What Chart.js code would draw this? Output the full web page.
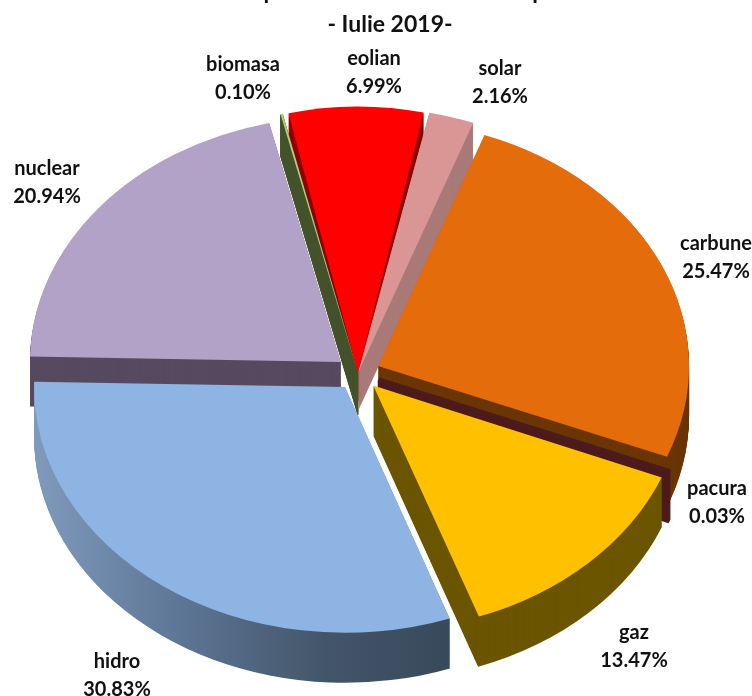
<!DOCTYPE html>
<html>
<head>
<meta charset="utf-8">
<title>Productie energie - Iulie 2019</title>
<script src="https://cdn.jsdelivr.net/npm/chart.js@4/dist/chart.umd.min.js"></script>
<style>
    html, body { margin: 0; padding: 0; background: #fff; overflow: hidden; }
    canvas { display: block; }
</style>
</head>
<body>
<canvas id="pieChart" width="752" height="696"></canvas>
<script>
// --- Donnees ---
const categories = ['carbune', 'pacura', 'gaz', 'hidro', 'nuclear', 'biomasa', 'eolian', 'solar'];
const shares = [25.47, 0.03, 13.47, 30.83, 20.94, 0.10, 6.99, 2.16];
// la 1re ligne du titre est coupee sur l'image, seuls les jambages des "p" se voient : texte suppose
const titleLines = ['Structura productiei de electricitate pe surse', '- Iulie 2019-'];

// --- Couleurs ---
const faceColors = ['#E46C0A', '#632523', '#FFC000', '#8DB4E2', '#B3A2C7', '#B5CC7A', '#FF0000', '#D99694'];
const sideColors = ['#6B3606', '#4D1B1B', '#6B5500', null, '#564A60', '#44532B', '#8F0000', '#A97A78'];

// --- Mise en page : la perspective agrandit les tranches du fond ---
const CENTER_Y = 373;
const sliceOffsets = [88, 88, 88, 88, 88, 0, 0, 0]; // Chart.js n'applique que offset/4
const sliceRadii = [311, 311, 311, 311, 311, 337, 310, 337];
const sliceSquash = [0.79, 0.79, 0.79, 0.79, 0.79, 0.79, 0.86, 0.79];
const sideDepths = [50, 50, 50, 50, 50, 42, 30, 38];
const sideStarts = [1, 0, 1, 1, 1, 1, 1, 1];
const sideStrokes = [0, 5, 0, 0, 0, 1, 0, 0];
const labelAnchors = [[716, 243], [717, 488], [634, 632], [117, 661], [47, 168], [243, 64], [374, 58], [500, 68]];

function slicePath(ctx, arc, i) {
    const off = arc.options.offset / 4;
    const mid = (arc.startAngle + arc.endAngle) / 2;
    const x = arc.x + Math.cos(mid) * off;
    const y = arc.y + Math.sin(mid) * off;
    ctx.beginPath();
    ctx.moveTo(x, y);
    ctx.arc(x, y, sliceRadii[i], arc.startAngle, arc.endAngle);
    ctx.closePath();
}

const pie3d = {
    id: 'pie3d',
    beforeDatasetsDraw(chart) {
        const ctx = chart.ctx;
        const arcs = chart.getDatasetMeta(0).data;

        const hidroSide = ctx.createLinearGradient(35, 0, 450, 0);
        hidroSide.addColorStop(0, '#809ABD');
        hidroSide.addColorStop(0.35, '#5D7695');
        hidroSide.addColorStop(0.7, '#435569');
        hidroSide.addColorStop(1, '#38495C');

        const drawSide = (i) => {
            const arc = arcs[i];
            ctx.fillStyle = sideColors[i] || hidroSide;
            ctx.strokeStyle = ctx.fillStyle;
            ctx.lineWidth = sideStrokes[i];
            for (let d = sideDepths[i]; d >= sideStarts[i]; d--) {
                ctx.setTransform(1, 0, 0, sliceSquash[i], 0, CENTER_Y + d - sliceSquash[i] * arc.y);
                slicePath(ctx, arc, i);
                ctx.fill();
                if (sideStrokes[i]) ctx.stroke();
            }
        };
        const drawFace = (i) => {
            const arc = arcs[i];
            // arc.draw agrandit les petites tranches (offset * fix) : on compense
            const fix = 1 - Math.sin(Math.min(Math.PI, arc.circumference));
            arc.outerRadius = sliceRadii[i] - (arc.options.offset / 4) * fix;
            ctx.setTransform(1, 0, 0, sliceSquash[i], 0, CENTER_Y - sliceSquash[i] * arc.y);
            arc.draw(ctx);
        };
        const drawSlice = (i) => { drawSide(i); drawFace(i); };

        ctx.save();
        drawSlice(4);
        drawSide(6);      // le ruban biomasa passe par dessus le flanc eolian
        drawSlice(5);
        drawFace(6);
        drawSlice(7);
        drawSlice(0);
        drawSlice(1);
        drawSlice(2);
        drawSlice(3);
        ctx.restore();
        return false; // tranches deja dessinees dans le bon ordre
    },
    afterDraw(chart) {
        const ctx = chart.ctx;
        ctx.save();
        ctx.fillStyle = '#111';
        ctx.textAlign = 'center';
        ctx.textBaseline = 'alphabetic';
        ctx.font = 'bold 23px Lato';
        ctx.fillText(titleLines[0], 390, -1);
        ctx.fillText(titleLines[1], 390, 32);
        ctx.font = 'bold 20px Lato';
        categories.forEach((name, i) => {
            const [x, y] = labelAnchors[i];
            ctx.fillText(name, x, y + 7);
            ctx.fillText(shares[i].toFixed(2) + '%', x, y + 35);
        });
        ctx.restore();
    }
};

new Chart(document.getElementById('pieChart').getContext('2d'), {
    type: 'pie',
    data: {
        labels: categories,
        datasets: [{
            data: shares,
            backgroundColor: faceColors,
            borderWidth: 0,
            offset: sliceOffsets
        }]
    },
    options: {
        responsive: false,
        animation: false,
        rotation: 20,
        radius: 311,
        layout: { padding: { right: 36 } },
        plugins: { legend: { display: false }, title: { display: false }, tooltip: { enabled: false } }
    },
    plugins: [pie3d]
});
</script>
</body>
</html>
